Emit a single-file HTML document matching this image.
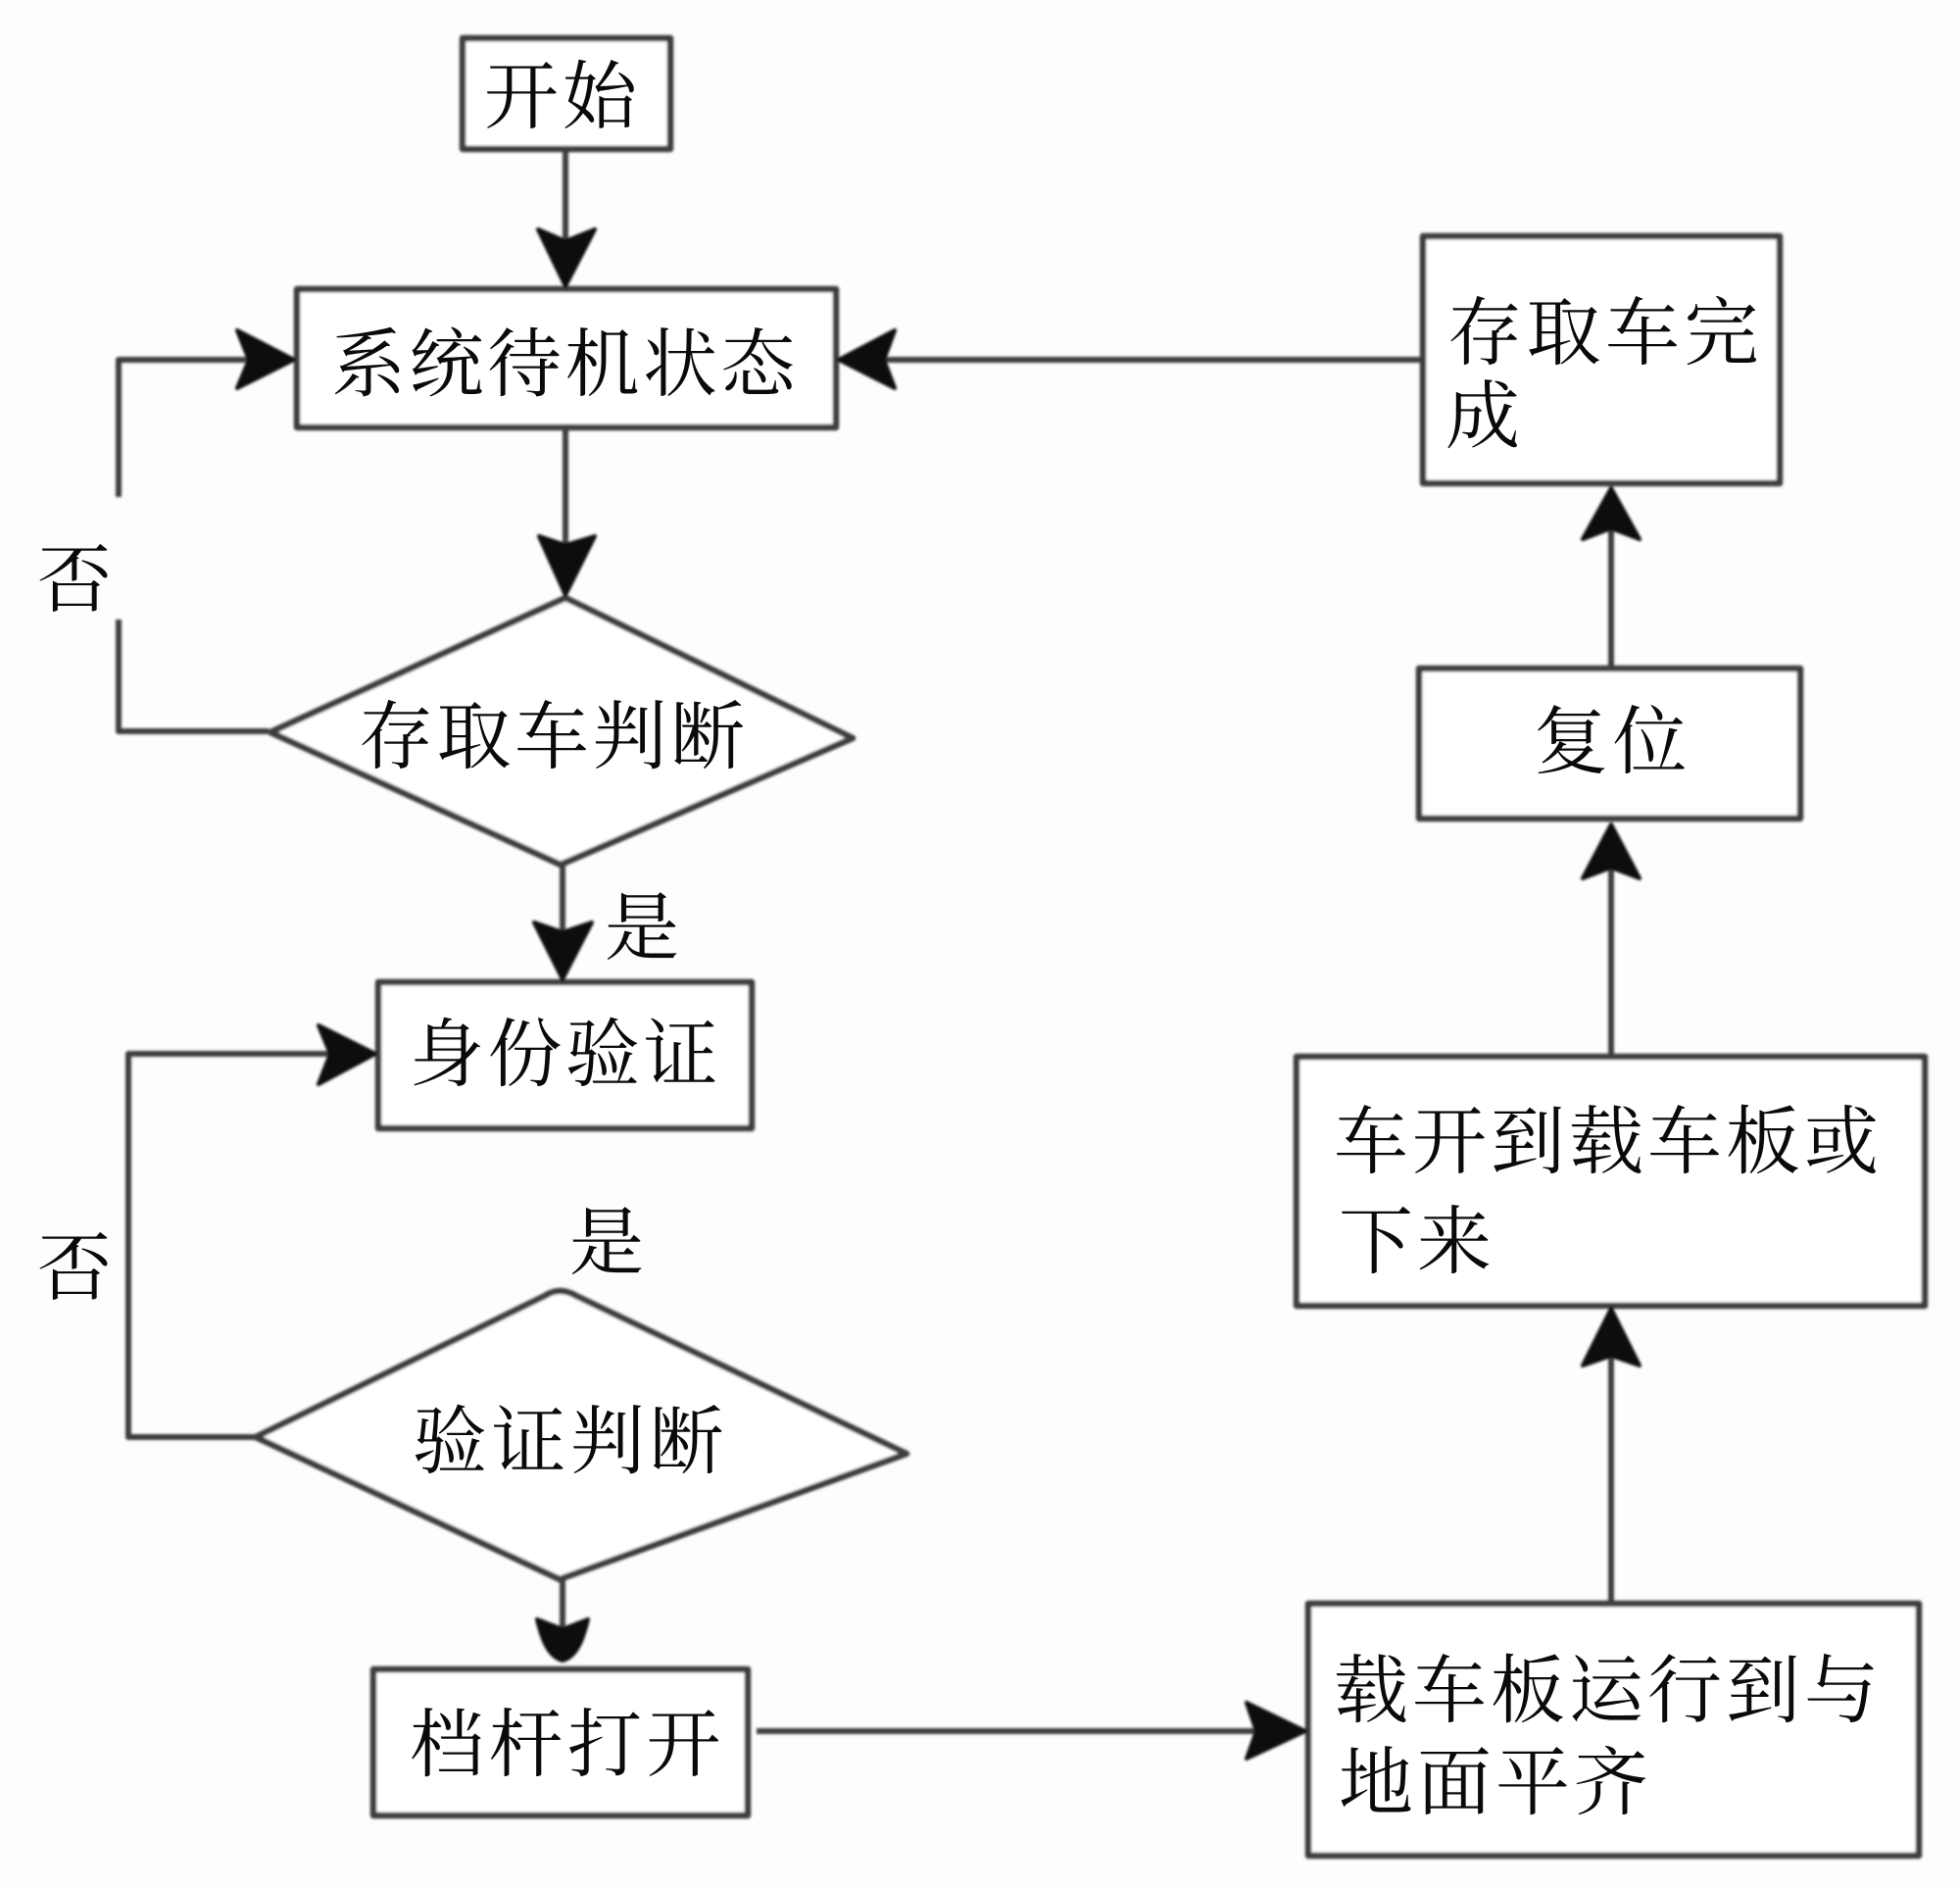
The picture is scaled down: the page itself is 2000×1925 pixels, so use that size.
<!DOCTYPE html>
<html lang="zh">
<head>
<meta charset="utf-8">
<style>
html,body{margin:0;padding:0;background:#fdfdfd;}
svg{display:block;}
text{font-family:"Liberation Serif","Noto Serif CJK SC",serif;font-size:76px;fill:#0a0a0a;letter-spacing:4px;}
.s{fill:none;stroke:#3c3c3c;stroke-width:6;stroke-linejoin:round;}
.b{fill:#fff;stroke:#3c3c3c;stroke-width:6.5;stroke-linejoin:round;}
.a{fill:#0c0c0c;stroke:#0c0c0c;stroke-width:4;stroke-linejoin:round;}
</style>
</head>
<body>
<svg width="2000" height="1925" viewBox="0 0 2000 1925" xmlns="http://www.w3.org/2000/svg">
<defs><filter id="f" x="-5%" y="-5%" width="110%" height="110%"><feGaussianBlur stdDeviation="1.2"/></filter></defs>
<rect width="2000" height="1925" fill="#fdfdfd"/>
<g filter="url(#f)">
<!-- connectors -->
<path class="s" d="M577 152V250"/>
<path class="s" d="M577 436V558"/>
<path class="s" d="M574 882V950"/>
<path class="s" d="M574 1609V1665"/>
<path class="s" d="M274 746H121V632"/>
<path class="s" d="M121 507V367H256"/>
<path class="s" d="M261 1466H131V1075H340"/>
<path class="s" d="M1452 367H900"/>
<path class="s" d="M772 1766H1285"/>
<path class="s" d="M1644 1636V1380"/>
<path class="s" d="M1644 1078V885"/>
<path class="s" d="M1644 682V540"/>
<!-- boxes -->
<rect class="b" x="472" y="39" width="212" height="113"/>
<rect class="b" x="303" y="295" width="550" height="141"/>
<polygon class="b" points="577,610 276,747 572,882 870,753"/>
<rect class="b" x="386" y="1002" width="381" height="149"/>
<path class="b" d="M556 1322Q571 1312 588 1322L925 1483L571 1611L261 1466Z"/>
<rect class="b" x="381" y="1703" width="382" height="149"/>
<rect class="b" x="1335" y="1636" width="623" height="257"/>
<rect class="b" x="1323" y="1078" width="641" height="254"/>
<rect class="b" x="1448" y="682" width="389" height="153"/>
<rect class="b" x="1452" y="241" width="364" height="252"/>
<!-- arrowheads -->
<polygon class="a" points="577,292 549,234 577,246 607,234"/>
<polygon class="a" points="577,607 550,547 577,556 607,547"/>
<polygon class="a" points="574,999 545,941 574,951 604,941"/>
<path class="a" d="M574 1694C558 1690 552 1668 548 1652L574 1662L600 1652C596 1668 590 1690 574 1694Z"/>
<polygon class="a" points="300,367 242,337 254,367 242,396"/>
<polygon class="a" points="383,1075 325,1046 337,1075 325,1106"/>
<polygon class="a" points="856,367 913,337 902,367 913,396"/>
<polygon class="a" points="1332,1766 1272,1737 1282,1766 1272,1794"/>
<polygon class="a" points="1644,1335 1615,1393 1644,1383 1673,1393"/>
<polygon class="a" points="1644,841 1615,896 1644,885 1673,896"/>
<polygon class="a" points="1644,498 1615,550 1644,539 1673,550"/>
</g>
<!-- labels -->
<text x="494" y="125">开始</text>
<text x="338" y="398" style="letter-spacing:3.5px">系统待机状态</text>
<text x="366" y="778" style="letter-spacing:3.5px">存取车判断</text>
<text x="418" y="1102" style="letter-spacing:3.5px">身份验证</text>
<text x="421" y="1497" style="letter-spacing:4.5px">验证判断</text>
<text x="418" y="1806" style="letter-spacing:4.5px">档杆打开</text>
<text x="38" y="618">否</text>
<text x="38" y="1320">否</text>
<text x="617" y="973">是</text>
<text x="581" y="1294">是</text>
<text x="1477" y="366" style="letter-spacing:4.5px">存取车完</text>
<text x="1475" y="451">成</text>
<text x="1565" y="783" style="letter-spacing:4.5px">复位</text>
<text x="1361" y="1191">车开到载车板或</text>
<text x="1366" y="1293">下来</text>
<text x="1361" y="1751">载车板运行到与</text>
<text x="1366" y="1845">地面平齐</text>
</svg>
</body>
</html>
